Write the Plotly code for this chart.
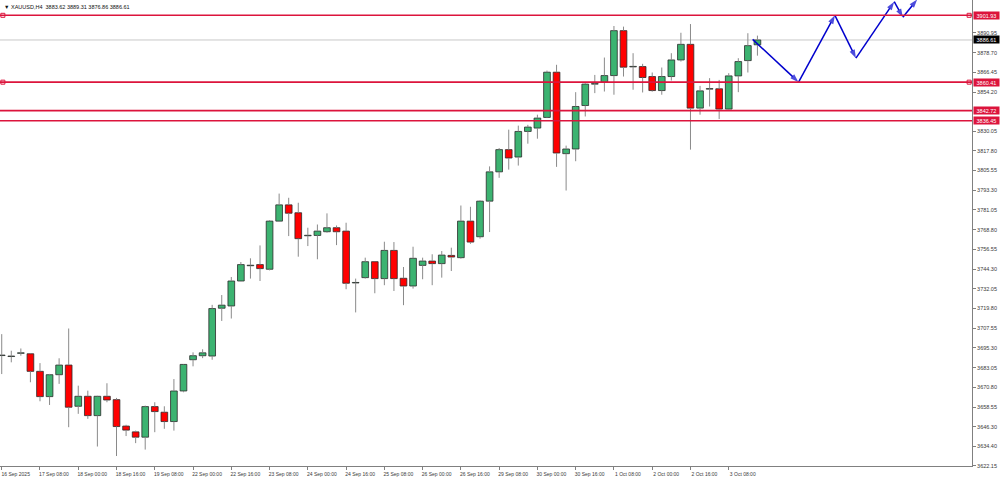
import plotly.graph_objects as go

# ---------------- data ----------------
opens = [3690.6, 3690.0, 3692.0, 3691.7, 3680.8, 3665.1, 3678.7, 3684.7, 3659.1, 3665.3,
         3653.3, 3665.3, 3663.2, 3646.8, 3643.2, 3639.9, 3658.9, 3655.4, 3649.6, 3668.6,
         3688.0, 3690.5, 3690.3, 3720.0, 3721.4, 3736.9, 3746.4, 3747.1, 3744.2, 3774.1,
         3784.2, 3779.3, 3765.0, 3765.2, 3767.5, 3770.0, 3767.9, 3735.7, 3739.0, 3748.9,
         3738.4, 3755.9, 3738.6, 3733.8, 3746.6, 3749.3, 3747.7, 3752.8, 3751.4, 3774.1,
         3764.4, 3786.5, 3804.7, 3818.5, 3813.9, 3829.8, 3831.9, 3838.5, 3866.6, 3816.0,
         3818.9, 3845.9, 3859.2, 3860.4, 3864.5, 3892.4, 3869.9, 3870.1, 3863.9, 3855.2,
         3863.9, 3874.2, 3883.9, 3844.3, 3856.1, 3856.3, 3843.7, 3864.3, 3873.8, 3883.62]
highs = [3703.9, 3693.6, 3695.0, 3692.0, 3685.9, 3679.2, 3688.9, 3707.4, 3671.9, 3668.8,
         3665.6, 3673.4, 3664.3, 3647.6, 3644.0, 3659.5, 3661.6, 3659.1, 3676.0, 3685.3,
         3692.6, 3694.5, 3722.1, 3728.2, 3739.4, 3748.7, 3751.0, 3759.0, 3774.7, 3791.2,
         3788.6, 3785.5, 3770.0, 3772.0, 3778.9, 3771.4, 3773.1, 3738.4, 3751.4, 3749.0,
         3761.3, 3761.1, 3745.6, 3758.2, 3751.4, 3753.5, 3755.5, 3757.6, 3783.8, 3783.0,
         3787.0, 3808.1, 3819.5, 3830.9, 3833.4, 3833.9, 3840.2, 3867.6, 3871.2, 3821.0,
         3854.2, 3860.2, 3864.9, 3875.7, 3895.3, 3894.9, 3878.4, 3871.8, 3866.4, 3869.5,
         3878.4, 3891.1, 3896.5, 3858.1, 3862.9, 3861.8, 3866.0, 3875.3, 3890.8, 3889.31]
lows = [3679.1, 3686.4, 3690.5, 3674.0, 3662.2, 3659.9, 3673.0, 3646.1, 3654.4, 3651.3,
        3634.1, 3661.6, 3628.2, 3640.6, 3636.2, 3632.2, 3643.0, 3645.1, 3644.0, 3667.8,
        3683.9, 3689.0, 3688.0, 3712.1, 3713.6, 3736.8, 3738.4, 3736.9, 3743.5, 3773.8,
        3764.8, 3752.0, 3758.6, 3750.4, 3766.9, 3759.2, 3731.8, 3717.4, 3738.4, 3729.3,
        3734.3, 3730.7, 3721.9, 3732.2, 3738.0, 3734.3, 3739.0, 3743.1, 3750.8, 3760.0,
        3763.2, 3767.3, 3801.0, 3806.1, 3808.6, 3822.2, 3825.3, 3838.1, 3807.8, 3793.1,
        3811.3, 3839.1, 3853.6, 3854.6, 3852.6, 3863.9, 3855.7, 3854.0, 3854.5, 3852.6,
        3861.4, 3873.2, 3818.5, 3840.2, 3845.3, 3837.5, 3843.3, 3854.2, 3866.4, 3876.86]
closes = [3690.9, 3690.3, 3692.3, 3680.8, 3665.1, 3678.7, 3684.7, 3658.5, 3665.3, 3653.3,
          3665.3, 3663.0, 3646.5, 3644.3, 3639.9, 3658.9, 3655.8, 3649.6, 3668.6, 3685.1,
          3690.5, 3692.3, 3719.8, 3721.9, 3736.9, 3747.1, 3746.7, 3744.6, 3774.1, 3784.2,
          3779.0, 3763.2, 3765.3, 3767.9, 3770.0, 3767.5, 3735.5, 3736.0, 3748.9, 3738.4,
          3755.9, 3738.4, 3733.8, 3751.0, 3749.3, 3747.7, 3753.0, 3751.8, 3774.1, 3761.1,
          3786.5, 3804.7, 3818.5, 3813.3, 3829.8, 3832.5, 3838.1, 3866.6, 3816.4, 3818.9,
          3845.3, 3859.2, 3859.5, 3864.5, 3892.4, 3869.7, 3870.2, 3863.3, 3855.2, 3863.9,
          3874.2, 3883.9, 3844.3, 3855.0, 3856.4, 3843.7, 3864.3, 3873.2, 3883.1, 3886.61]

x_tick_labels = ["16 Sep 2025", "17 Sep 08:00", "18 Sep 00:00", "18 Sep 16:00", "19 Sep 08:00",
                 "22 Sep 00:00", "22 Sep 16:00", "23 Sep 08:00", "24 Sep 00:00", "24 Sep 16:00",
                 "25 Sep 08:00", "26 Sep 00:00", "26 Sep 16:00", "29 Sep 08:00", "30 Sep 00:00",
                 "30 Sep 16:00", "1 Oct 08:00", "2 Oct 00:00", "2 Oct 16:00", "3 Oct 08:00"]
bars_per_label = 4

y_tick_values = [3890.95, 3878.70, 3866.45, 3854.20, 3830.05, 3817.80, 3805.55, 3793.30,
                 3781.05, 3768.80, 3756.55, 3744.30, 3732.05, 3719.80, 3707.55, 3695.30,
                 3683.05, 3670.80, 3658.55, 3646.30, 3634.40, 3622.15]

level_prices = [3901.93, 3860.41, 3842.72, 3836.45]
level_has_anchor = [True, True, False, False]

forecast_x = [78.5, 83.3, 87.1, 89.3, 93.3, 94.2, 95.7]
forecast_y = [3887.0, 3860.4, 3901.9, 3875.3, 3910.4, 3900.7, 3911.8]

symbol = "XAUUSD,H4"

# ---------------- styles ----------------
BULL = "#3CB371"
BEAR = "#FF0000"
WICK = "#8a8a8a"
OUTLINE = "#2b2b2b"
LEVEL = "#DC143C"
FORE = "#0000CD"
TXT = "#3a3a3a"
FONT = "Liberation Sans"

x_range = [-0.18, 101.43]
y_range = [3622.0, 3911.44]

n = len(closes)
idx = list(range(n))

body_base = [min(o, c) for o, c in zip(opens, closes)]
body_h = [abs(c - o) for o, c in zip(opens, closes)]
body_col = [BULL if c >= o else BEAR for o, c in zip(opens, closes)]

wx, wy = [], []
for i, o, h, l, c in zip(idx, opens, highs, lows, closes):
    top, bot = max(o, c), min(o, c)
    if h > top:
        wx += [i, i, None]
        wy += [top, h, None]
    if l < bot:
        wx += [i, i, None]
        wy += [bot, l, None]

fig = go.Figure()

fig.add_trace(go.Scatter(x=wx, y=wy, mode="lines", line=dict(color=WICK, width=1),
                         hoverinfo="skip", showlegend=False))
fig.add_trace(go.Bar(x=idx, y=body_h, base=body_base, width=0.7,
                     marker=dict(color=body_col, line=dict(color=OUTLINE, width=0.8)),
                     showlegend=False, hoverinfo="skip"))

# level anchor squares
for p, a in zip(level_prices, level_has_anchor):
    if a:
        fig.add_trace(go.Scatter(x=[x_range[0] + 0.3, x_range[1] - 0.3], y=[p, p], mode="markers",
                                 marker=dict(symbol="square-open", size=4, color=LEVEL,
                                             line=dict(width=1, color=LEVEL)),
                                 showlegend=False, hoverinfo="skip"))

# forecast zig-zag with arrow heads
fig.add_trace(go.Scatter(x=forecast_x, y=forecast_y, mode="lines+markers",
                         line=dict(color=FORE, width=1.5),
                         marker=dict(symbol="arrow", angleref="previous",
                                     size=[0] + [9] * (len(forecast_x) - 1), color=FORE,
                                     line=dict(width=0)),
                         showlegend=False, hoverinfo="skip"))

# bid line
bid = closes[-1]
fig.add_shape(type="line", xref="paper", x0=0, x1=1, y0=bid, y1=bid,
              line=dict(color="#c8c8c8", width=1), layer="below")
for p in level_prices:
    fig.add_shape(type="line", xref="paper", x0=0, x1=1, y0=p, y1=p,
                  line=dict(color=LEVEL, width=1.6), layer="above")

# price boxes on the right axis
for p in level_prices:
    fig.add_annotation(xref="paper", x=1, y=p, xanchor="left", yanchor="middle", xshift=1,
                       text=f"{p:.2f}", showarrow=False, bgcolor=LEVEL, borderpad=0.5,
                       width=24, font=dict(family=FONT, size=5.5, color="white"))
fig.add_annotation(xref="paper", x=1, y=bid, xanchor="left", yanchor="middle", xshift=1,
                   text=f"{bid:.2f}", showarrow=False, bgcolor="#000000", borderpad=0.5,
                   width=24, font=dict(family=FONT, size=5.5, color="white"))

# header
fig.add_annotation(xref="paper", yref="paper", x=0, y=1, xanchor="left", yanchor="top",
                   xshift=2, yshift=-2, showarrow=False,
                   text=f"▼ {symbol}  {opens[-1]:.2f} {highs[-1]:.2f} {lows[-1]:.2f} {closes[-1]:.2f}",
                   font=dict(family=FONT, size=5.5, color="#111111"))

fig.update_layout(
    width=1000, height=481,
    margin=dict(l=0, r=28, t=0, b=15),
    paper_bgcolor="white", plot_bgcolor="white",
    showlegend=False, bargap=0, hovermode=False,
    font=dict(family=FONT, color=TXT),
)
fig.update_xaxes(range=x_range, tickmode="array",
                 tickvals=[k * bars_per_label for k in range(len(x_tick_labels))],
                 ticktext=x_tick_labels, ticks="outside", ticklen=3, tickcolor="#808080",
                 tickfont=dict(family=FONT, size=5, color=TXT), ticklabelshift=14,
                 showgrid=False, zeroline=False, showline=True, linecolor="#808080",
                 linewidth=1, automargin=False, fixedrange=True)
fig.update_yaxes(range=y_range, side="right", tickmode="array", tickvals=y_tick_values,
                 ticktext=[f"{v:.2f}" for v in y_tick_values], ticks="outside", ticklen=3,
                 tickcolor="#808080", tickfont=dict(family=FONT, size=5.5, color=TXT),
                 showgrid=False, zeroline=False, showline=True, linecolor="#808080",
                 linewidth=1, automargin=False, fixedrange=True)

fig.write_html("out.html", config={"displayModeBar": False, "staticPlot": True},
               post_script="document.body.style.margin='0';document.body.style.overflow='hidden';")
